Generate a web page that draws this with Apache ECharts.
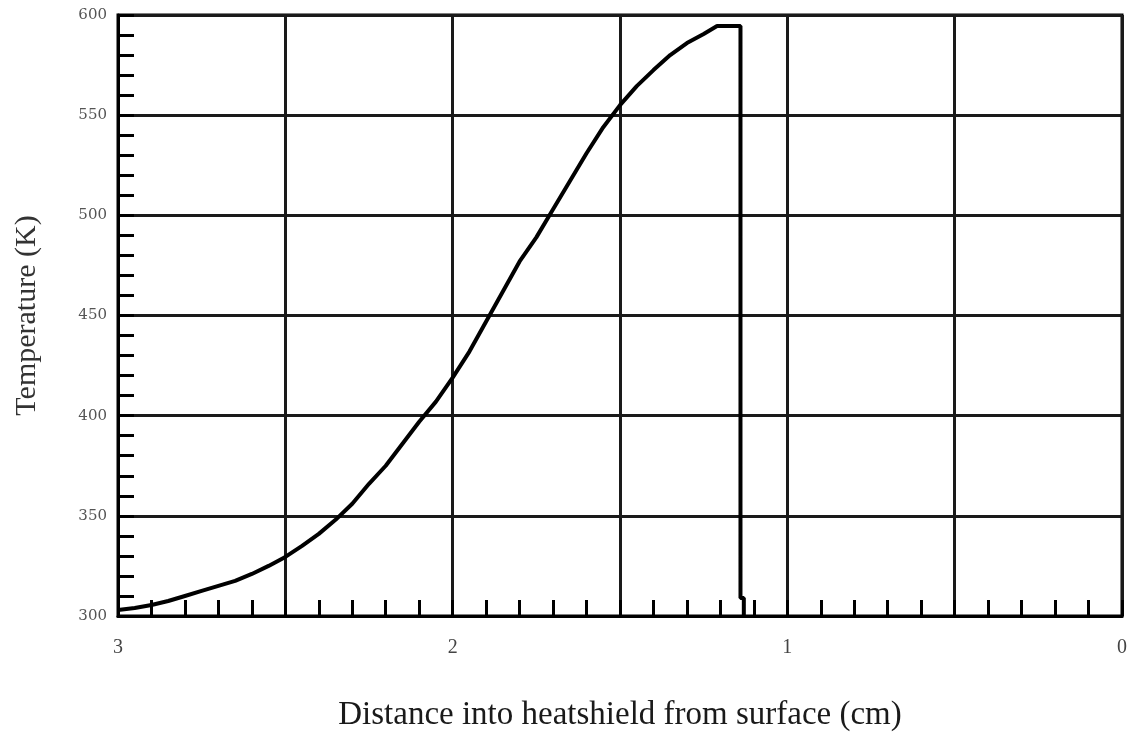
<!DOCTYPE html>
<html>
<head>
<meta charset="utf-8">
<script src="https://cdn.jsdelivr.net/npm/echarts@6/dist/echarts.min.js"></script>
<style>
html,body{margin:0;padding:0;background:#fff;}
#chart{width:1130px;height:737px;}
</style>
</head>
<body>
<div id="chart"></div>
<script>
// Distance into heatshield (cm) and temperature (K)
const distance = [3.00, 2.95, 2.90, 2.85, 2.80, 2.75, 2.70, 2.65, 2.60, 2.55, 2.50, 2.45, 2.40, 2.35, 2.30, 2.25, 2.20, 2.15, 2.10, 2.05, 2.00, 1.95, 1.90, 1.85, 1.80, 1.75, 1.70, 1.65, 1.60, 1.55, 1.50, 1.45, 1.40, 1.35, 1.30, 1.25, 1.21, 1.14, 1.14, 1.13, 1.13];
const temperature = [303, 304, 305.5, 307.5, 310, 312.5, 315, 317.5, 321, 325, 329.5, 335, 341, 348, 356, 366, 375, 386, 397, 407, 419, 432, 447, 462, 477, 489, 503, 517, 531, 544, 555, 564.5, 572.5, 580, 586, 590.5, 594.5, 594.5, 309, 309, 300];
const xTickLabels = ['0', '1', '2', '3'];
const yTickLabels = ['300', '350', '400', '450', '500', '550', '600'];
const xTitle = 'Distance into heatshield from surface (cm)';
const yTitle = 'Temperature (K)';

const points = distance.map((d, i) => [d, temperature[i]]);

const chart = echarts.init(document.getElementById('chart'), null, {renderer: 'canvas'});
chart.setOption({
  animation: false,
  backgroundColor: '#ffffff',
  grid: {left: 118, right: 5, top: 15, bottom: 119, show: true, borderColor: '#000', borderWidth: 3, backgroundColor: 'transparent'},
  xAxis: {
    type: 'value', min: 0, max: 3, interval: 0.5, inverse: true, position: 'bottom',
    name: xTitle, nameLocation: 'middle', nameGap: 83,
    nameTextStyle: {fontFamily: 'Liberation Serif', fontSize: 33, color: '#1a1a1a'},
    axisLine: {show: true, onZero: false, lineStyle: {color: '#000', width: 3}},
    axisTick: {show: true, inside: true, length: 16, lineStyle: {color: '#000', width: 3}},
    minorTick: {show: true, splitNumber: 5, length: 16, lineStyle: {color: '#000', width: 3}},
    splitLine: {show: true, lineStyle: {color: '#1a1a1a', width: 3}},
    axisLabel: {
      margin: 22, fontFamily: 'Liberation Serif', fontSize: 20, color: '#444',
      formatter: v => (xTickLabels.indexOf(String(v)) >= 0 ? String(v) : '')
    }
  },
  yAxis: {
    type: 'value', min: 300, max: 600, interval: 50, position: 'left',
    name: yTitle, nameLocation: 'middle', nameGap: 76, nameRotate: 90,
    nameTextStyle: {fontFamily: 'Liberation Serif', fontSize: 30, color: '#333'},
    axisLine: {show: true, onZero: false, lineStyle: {color: '#000', width: 3}},
    axisTick: {show: true, inside: true, length: 16, lineStyle: {color: '#000', width: 3}},
    minorTick: {show: true, splitNumber: 5, length: 16, lineStyle: {color: '#000', width: 3}},
    splitLine: {show: true, lineStyle: {color: '#1a1a1a', width: 3}},
    axisLabel: {
      margin: 11, fontFamily: 'DejaVu Serif', fontSize: 15, color: '#555',
      formatter: v => (yTickLabels.indexOf(String(v)) >= 0 ? String(v) : '')
    }
  },
  series: [{
    type: 'line',
    data: points,
    symbol: 'none',
    smooth: false,
    lineStyle: {color: '#000', width: 4},
    z: 5
  }]
});
</script>
</body>
</html>
